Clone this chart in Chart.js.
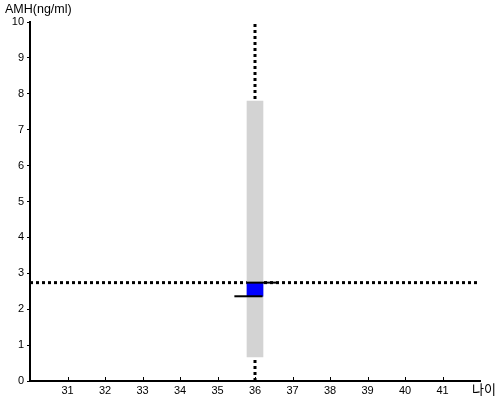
<!DOCTYPE html>
<html>
<head>
<meta charset="utf-8">
<script src="https://cdn.jsdelivr.net/npm/chart.js@4"></script>
<style>
  body { margin: 0; background: #fff; }
  canvas { display: block; }
</style>
</head>
<body>
<canvas id="amhChart" width="500" height="400"></canvas>
<script>
// data
const ageTicks = [31, 32, 33, 34, 35, 36, 37, 38, 39, 40, 41];
const amhTicks = [0, 1, 2, 3, 4, 5, 6, 7, 8, 9, 10];
const ageRange = [30, 42];
const amhRange = [0, 10];
const patientAge = 36;
const patientAmh = 2.74;
const normalRange = [0.67, 7.8];
const patientBox = [2.36, 2.74];
const topSegment = [35.77, 36.56];
const bottomSegment = [35.45, 36.2];

const FONT = "'Liberation Sans', Arial, sans-serif";

// -----------------------------
// Plugins
// -----------------------------
const axisExtras = {
  id: "axisExtras",
  afterDraw(chart) {
    const ctx = chart.ctx;
    const x = chart.scales.x;
    const area = chart.chartArea;

    // x ticks point up into the plot
    ctx.save();
    ctx.strokeStyle = "#000";
    ctx.lineWidth = 1;
    ageTicks.forEach(v => {
      const px = Math.round(x.getPixelForValue(v)) + 0.5;
      ctx.beginPath();
      ctx.moveTo(px, area.bottom);
      ctx.lineTo(px, area.bottom - 4);
      ctx.stroke();
    });

    ctx.fillStyle = "#000";
    ctx.textBaseline = "top";
    ctx.textAlign = "left";
    ctx.font = "12.5px " + FONT;
    ctx.fillText("AMH(ng/ml)", 5, 3);
    ctx.font = "13px 'Noto Sans CJK KR', sans-serif";
    ctx.fillText("나이", 472, 383);
    ctx.restore();
  }
};

// -----------------------------
// Chart
// -----------------------------
const dotted = {
  type: "line",
  borderColor: "#000",
  borderWidth: 3,
  borderDash: [3, 3],
  borderCapStyle: "butt",
  pointRadius: 0,
  fill: false
};

const solid = {
  type: "line",
  borderColor: "#000",
  borderWidth: 2,
  pointRadius: 0,
  fill: false
};

new Chart(document.getElementById("amhChart"), {
  type: "bar",
  data: {
    datasets: [
      {
        ...dotted,
        order: 6,
        data: [{ x: ageRange[0], y: patientAmh }, { x: ageRange[1], y: patientAmh }]
      },
      {
        ...dotted,
        order: 5,
        data: [{ x: patientAge, y: amhRange[0] }, { x: patientAge, y: amhRange[1] }]
      },
      {
        type: "bar",
        order: 4,
        grouped: false,
        barThickness: 16,
        backgroundColor: "#d3d3d3",
        data: [{ x: patientAge, y: normalRange }]
      },
      {
        type: "bar",
        order: 3,
        grouped: false,
        barThickness: 16,
        backgroundColor: "#0000ff",
        data: [{ x: patientAge, y: patientBox }]
      },
      {
        ...solid,
        order: 2,
        data: [{ x: topSegment[0], y: patientAmh }, { x: topSegment[1], y: patientAmh }]
      },
      {
        ...solid,
        order: 1,
        data: [{ x: bottomSegment[0], y: patientBox[0] }, { x: bottomSegment[1], y: patientBox[0] }]
      }
    ]
  },
  options: {
    responsive: false,
    animation: false,
    layout: { padding: { top: 22, right: 20, left: 0, bottom: 0 } },
    plugins: {
      legend: { display: false },
      tooltip: { enabled: false }
    },
    scales: {
      x: {
        type: "linear",
        min: ageRange[0],
        max: ageRange[1],
        offset: false,
        afterBuildTicks: s => { s.ticks = ageTicks.map(v => ({ value: v })); },
        afterFit: s => { s.height = 19; },
        grid: { display: false, drawTicks: false },
        border: { display: true, color: "#000", width: 2 },
        ticks: {
          color: "#000",
          font: { family: FONT, size: 11 },
          padding: 3,
          maxRotation: 0,
          autoSkip: false
        }
      },
      y: {
        type: "linear",
        min: amhRange[0],
        max: amhRange[1],
        afterBuildTicks: s => { s.ticks = amhTicks.map(v => ({ value: v })); },
        afterFit: s => { s.width = 30; },
        grid: { drawOnChartArea: false, drawTicks: true, tickLength: 3, color: "#000" },
        border: { display: true, color: "#000", width: 2 },
        ticks: {
          color: "#000",
          font: { family: FONT, size: 11 },
          padding: 3
        }
      }
    }
  },
  plugins: [axisExtras]
});
</script>
</body>
</html>
